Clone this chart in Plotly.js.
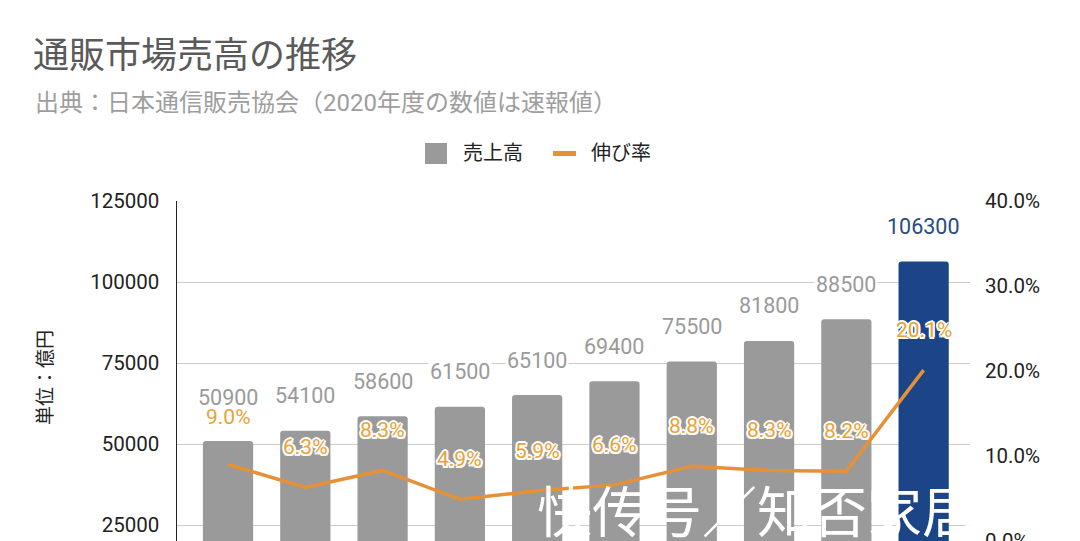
<!DOCTYPE html>
<html>
<head>
<meta charset="utf-8">
<script src="https://cdn.plot.ly/plotly-3.0.1.min.js"></script>
<style>
html,body{margin:0;padding:0;background:#fff;overflow:hidden;width:1080px;height:541px;}
#chart{width:1080px;height:700px;}
</style>
</head>
<body>
<div id="chart"></div>
<script>
// ---- data ----
const years = ['2011年度','2012年度','2013年度','2014年度','2015年度','2016年度','2017年度','2018年度','2019年度','2020年度'];
const sales = [50900, 54100, 58600, 61500, 65100, 69400, 75500, 81800, 88500, 106300];
const growth = [9.0, 6.3, 8.3, 4.9, 5.9, 6.6, 8.8, 8.3, 8.2, 20.1];
const salesTicks = [25000, 50000, 75000, 100000, 125000];
const growthTicks = [0, 10, 20, 30, 40];
const salesName = '売上高';
const growthName = '伸び率';
const titleText = '通販市場売高の推移';
const subtitleText = '出典：日本通信販売協会（2020年度の数値は速報値）';
const yTitleText = '単位：億円';
const watermarkText = '快传号／知否家居';

// ---- geometry helpers (pixel -> paper) ----
const W = 1080, H = 700;
const M = {l:177, r:110, t:201, b:94};
const PW = W - M.l - M.r, PH = H - M.t - M.b;
const px = x => (x - M.l) / PW;
const py = y => (M.t + PH - y) / PH;

const Y1 = [0, 125000], Y2 = [-7.65, 40];
const y1pix = v => M.t + PH * (1 - (v - Y1[0]) / (Y1[1] - Y1[0]));
const y2pix = v => M.t + PH * (1 - (v - Y2[0]) / (Y2[1] - Y2[0]));

const FONT = "Roboto, 'Noto Sans CJK JP', sans-serif";
const GRAY = '#9a9a9a', BLUE = '#1c4587', ORANGE = '#e69138', LABEL_ORANGE = '#e9a235';
const highlight = years.length - 1;
const barColors = years.map((_, i) => i === highlight ? BLUE : GRAY);

const traces = [
  {
    type: 'bar', name: salesName, x: years, y: sales,
    marker: {color: barColors, cornerradius: 3},
    hoverinfo: 'skip', showlegend: false
  },
  {
    type: 'scatter', mode: 'lines', name: growthName, x: years, y: growth, yaxis: 'y2',
    line: {color: ORANGE, width: 3.5},
    hoverinfo: 'skip', showlegend: false
  }
];

const halo = [
  '2px 0 0 #fff','-2px 0 0 #fff','0 2px 0 #fff','0 -2px 0 #fff',
  '1.5px 1.5px 0 #fff','-1.5px -1.5px 0 #fff','1.5px -1.5px 0 #fff','-1.5px 1.5px 0 #fff'
].join(', ');

const annotations = [];
sales.forEach((v, i) => {
  // default label offsets; when the rate label would collide with the value label,
  // stack both above the bar top (as the reference does for the first bar)
  let vShift = 35, gShift = 40;
  const vy = y1pix(v) - vShift;
  const gy = y2pix(growth[i]) - gShift;
  if (Math.abs(gy - vy) < 20) {
    gShift = y2pix(growth[i]) - (y1pix(v) - 24);
    vShift = 44;
  }
  annotations.push({
    x: i, y: v, xref: 'x', yref: 'y', text: String(v), showarrow: false,
    yshift: vShift, bgcolor: '#ffffff',
    font: {family: FONT, size: 21.5, color: i === highlight ? '#2a4b80' : GRAY}
  });
  annotations.push({
    x: i, y: growth[i], xref: 'x', yref: 'y2', text: growth[i].toFixed(1) + '%', showarrow: false,
    yshift: gShift,
    font: {family: FONT, size: 21, color: LABEL_ORANGE, shadow: halo}
  });
});
// subtitle
annotations.push({
  xref: 'paper', yref: 'paper', x: px(33), y: py(103), xanchor: 'left', yanchor: 'middle',
  text: subtitleText, showarrow: false, font: {family: FONT, size: 24, color: '#9e9e9e'}
});
// y-axis title
annotations.push({
  xref: 'paper', yref: 'paper', x: px(45), y: py(378), xanchor: 'center', yanchor: 'middle',
  text: yTitleText, textangle: -90, showarrow: false, font: {family: FONT, size: 19, color: '#222'}
});
// legend labels
annotations.push({
  xref: 'paper', yref: 'paper', x: px(461), y: py(153), xanchor: 'left', yanchor: 'middle',
  text: salesName, showarrow: false, font: {family: FONT, size: 20, color: '#222'}
});
annotations.push({
  xref: 'paper', yref: 'paper', x: px(589), y: py(153), xanchor: 'left', yanchor: 'middle',
  text: growthName, showarrow: false, font: {family: FONT, size: 20, color: '#222'}
});
// watermark
annotations.push({
  xref: 'paper', yref: 'paper', x: px(757), y: py(508), xanchor: 'center', yanchor: 'middle',
  text: watermarkText, showarrow: false,
  font: {family: "'Noto Sans CJK SC', sans-serif", size: 55, color: '#ffffff'}
});

const shapes = [
  {type: 'rect', xref: 'paper', yref: 'paper', x0: px(425), x1: px(447), y0: py(164), y1: py(143),
   fillcolor: GRAY, line: {width: 0}},
  {type: 'line', xref: 'paper', yref: 'paper', x0: px(553), x1: px(576), y0: py(153.5), y1: py(153.5),
   line: {color: ORANGE, width: 5}}
];

const layout = {
  width: W, height: H,
  margin: M,
  paper_bgcolor: '#fff', plot_bgcolor: '#fff',
  font: {family: FONT, color: '#222'},
  title: {
    text: titleText, xref: 'container', yref: 'container',
    x: 33 / W, xanchor: 'left', y: 1 - 55 / H, yanchor: 'middle',
    font: {family: FONT, size: 36, color: '#5a5a5a'}
  },
  showlegend: false,
  bargap: 0.35,
  xaxis: {
    type: 'category', range: [-0.66, 9.6], showgrid: false, showline: false,
    ticks: '', showticklabels: false, fixedrange: true
  },
  yaxis: {
    range: Y1, tickvals: salesTicks, ticktext: salesTicks.map(String),
    showgrid: true, gridcolor: '#cccccc', gridwidth: 1, zeroline: false,
    showline: true, linecolor: '#222', linewidth: 1.5,
    ticks: '', ticklabelstandoff: 12,
    tickfont: {family: FONT, size: 20.5, color: '#222'}
  },
  yaxis2: {
    overlaying: 'y', side: 'right', range: Y2,
    tickvals: growthTicks, ticktext: growthTicks.map(v => v.toFixed(1) + '%'),
    showgrid: false, zeroline: false, showline: false,
    ticks: '', ticklabelstandoff: 14,
    tickfont: {family: FONT, size: 20.5, color: '#222'}
  },
  annotations: annotations,
  shapes: shapes
};

Plotly.newPlot('chart', traces, layout, {staticPlot: true, displayModeBar: false});
</script>
</body>
</html>
